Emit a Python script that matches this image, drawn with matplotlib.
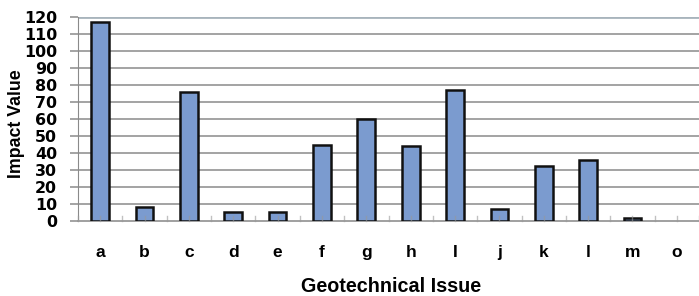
import numpy as np
import matplotlib
matplotlib.use("Agg")
import matplotlib.pyplot as plt

plt.rcParams['font.family'] = ['Liberation Sans', 'DejaVu Sans']

# Dados
categorias = ['a', 'b', 'c', 'd', 'e', 'f', 'g', 'h', 'I', 'j', 'k', 'l', 'm', 'o']
valores = [117, 8, 76, 5.5, 5, 44.5, 60, 44, 77, 7, 32.5, 36, 1.5, 0]
y_ticks = list(range(0, 121, 10))

W, H = 699, 296
fig = plt.figure(figsize=(W / 100, H / 100), dpi=100)
ax = fig.add_axes([0.1116, 0.2534, 0.8884, 0.6892])

x = np.arange(len(categorias))
# barras de valor zero ficam sem contorno
bordas = [1.8 if v > 0 else 0 for v in valores]
ax.bar(x, valores, width=0.40, color='#7b9bcf', edgecolor='#111111', linewidth=bordas, zorder=3)

ax.set_xlim(-0.5, len(categorias) - 0.5)
ax.set_ylim(0, 120)
ax.set_yticks(y_ticks)
ax.set_yticklabels([str(v) for v in y_ticks], fontsize=11.4, fontweight='bold',
                   family=['DejaVu Sans'])
ax.set_xticks(x)
ax.set_xticklabels(categorias, fontsize=12.5, fontweight='bold')

# grade horizontal
for v in y_ticks[1:-1]:
    ax.axhline(v, color='#8a8a8a', linewidth=1.1, zorder=1)
ax.axhline(120, color='#a8b4bc', linewidth=2, zorder=1)

for s in ['top', 'right']:
    ax.spines[s].set_visible(False)
ax.spines['left'].set_color('#8a8a8a')
ax.spines['bottom'].set_color('#999999')
ax.spines['bottom'].set_linewidth(1.3)

ax.tick_params(axis='y', length=6, width=1.1, color='#8a8a8a', pad=9)
ax.tick_params(axis='x', length=0, pad=17)

# pequenas marcas no eixo x (centros e limites das categorias)
for b in np.arange(-0.5, len(categorias), 0.5):
    ax.plot([b, b], [0, 3], color='#999999', alpha=0.6, linewidth=1, zorder=4, clip_on=False)

# títulos dos eixos posicionados em pixels
fig.text(16.5 / W, 1 - 123.5 / H, 'Impact Value', rotation=90, fontsize=12.8,
         fontweight='bold', ha='center', va='center')
fig.text(391.5 / W, 1 - 292 / H, 'Geotechnical Issue', fontsize=14.2,
         fontweight='bold', ha='center', va='baseline')

fig.savefig('out.png', dpi=100)
